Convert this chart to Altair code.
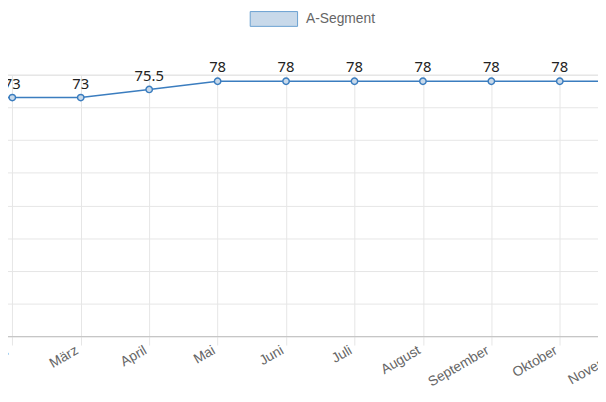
import altair as alt
import pandas as pd

months = ["Januar", "Februar", "März", "April", "Mai", "Juni", "Juli",
          "August", "September", "Oktober", "November", "Dezember"]
values = [73, 73, 73, 75.5, 78, 78, 78, 78, 78, 78, 78, 78]
series = ["A-Segment"] * len(months)
y_ticks = [0, 10, 20, 30, 40, 50, 60, 70, 80]

df = pd.DataFrame({"month": months, "value": values, "series": series})
df["label"] = [f"{v:g}" for v in values]

line_color = "#3b7dbf"
fill_color = "#c8d9ea"

x_enc = alt.X(
    "month:N", sort=months, title=None,
    scale=alt.Scale(type="point", padding=0),
    axis=alt.Axis(
        labelAngle=-30, labelAlign="right", labelBaseline="middle",
        labelFont="Liberation Sans", labelFontSize=14, labelColor="#666666",
        labelOverlap=False, labelPadding=4, labelOffset=-4, tickSize=9,
        tickColor="#e6e6e6", gridColor="#e6e6e6", domainColor="#bfbfbf", grid=True,
    ),
)
y_enc = alt.Y(
    "value:Q", title=None,
    scale=alt.Scale(domain=[0, 80], nice=False, zero=True),
    axis=alt.Axis(values=y_ticks, gridColor="#e6e6e6", domain=False, ticks=False,
                  labelFont="Liberation Sans", labelFontSize=12, labelColor="#666666"),
)

base = alt.Chart(df)

line = base.mark_line(color=line_color, strokeWidth=1.5).encode(x=x_enc, y=y_enc)

points = base.mark_point(filled=True, size=42, stroke=line_color, strokeWidth=1.5,
                         opacity=1).encode(
    x=x_enc, y=y_enc,
    fill=alt.Fill(
        "series:N", scale=alt.Scale(range=[fill_color]),
        legend=alt.Legend(
            title=None, orient="none", legendX=310, legendY=-81, padding=0,
            symbolType="M-1,-0.3125H1V0.3125H-1Z", symbolSize=2304,
            symbolStrokeColor="#6a9fd0", symbolStrokeWidth=1, symbolFillColor=fill_color,
            labelFont="Liberation Sans", labelFontSize=14, labelColor="#666666",
            labelOffset=8,
        ),
    ),
)

labels = base.mark_text(font="Noto Sans", fontSize=15, color="#222222",
                        baseline="alphabetic", dy=-9).encode(
    x=x_enc, y=y_enc, text="label:N"
)

chart = alt.layer(line, points, labels).properties(
    width=763, height=265,
    padding={"left": -65, "top": 65, "right": -100, "bottom": 56},
    autosize="none",
).configure_view(stroke=None).configure(background="white")

chart.save("out.html", embed_options={"renderer": "svg", "actions": False})
